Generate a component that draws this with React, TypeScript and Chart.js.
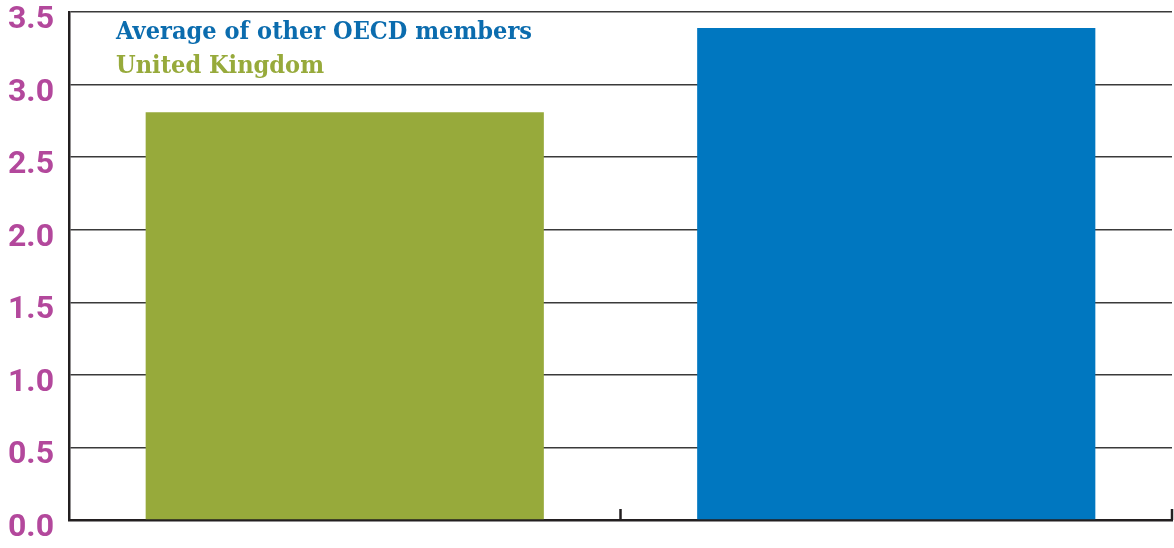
import React, { useEffect, useRef } from "react";
import { Chart, registerables } from "chart.js";

Chart.register(...registerables);

const categories = ["United Kingdom", "Average of other OECD members"];
const values = [2.81, 3.39];
const barColors = ["#97aa3b", "#0077c0"];
const legendLabels = ["Average of other OECD members", "United Kingdom"];
const legendColors = ["#0b6cae", "#97aa3b"];
const yMin = 0;
const yMax = 3.5;
const yStep = 0.5;

const innerLegend = {
  id: "innerLegend",
  afterDraw(chart: any) {
    const { ctx, chartArea } = chart;
    ctx.save();
    ctx.font = "bold 24.5px 'DejaVu Serif'";
    ctx.textBaseline = "alphabetic";
    ctx.textAlign = "left";
    const w = ctx.measureText(legendLabels[0]).width;
    const sx = 416 / w;
    legendLabels.forEach((label, i) => {
      ctx.save();
      ctx.translate(chartArea.left + 47, chartArea.top + 26.5 + i * 34.5);
      ctx.scale(sx, 1);
      ctx.fillStyle = legendColors[i];
      ctx.fillText(label, 0, 0);
      ctx.restore();
    });
    ctx.restore();
  },
};

const innerTicks = {
  id: "innerTicks",
  afterDatasetsDraw(chart: any) {
    const { ctx, chartArea, scales } = chart;
    const x = scales.x;
    ctx.save();
    ctx.strokeStyle = "#231f20";
    ctx.lineWidth = 2.5;
    for (let i = 0; i < categories.length; i++) {
      const px = x.getPixelForValue(i + 0.5);
      ctx.beginPath();
      ctx.moveTo(px, chartArea.bottom - 11);
      ctx.lineTo(px, chartArea.bottom);
      ctx.stroke();
    }
    ctx.restore();
  },
};

export default function App() {
  const ref = useRef<HTMLCanvasElement | null>(null);
  useEffect(() => {
    document.body.style.margin = "0";
    const canvas = ref.current;
    if (!canvas) return;
    const chart = new Chart(canvas, {
      type: "bar",
      data: {
        labels: categories,
        datasets: [
          {
            label: "Value",
            data: values,
            backgroundColor: barColors,
            borderWidth: 0,
            barPercentage: 0.722,
            categoryPercentage: 1,
          },
        ],
      },
      options: {
        animation: false,
        responsive: false,
        maintainAspectRatio: false,
        layout: { padding: { top: 12, right: 2, bottom: 28, left: 0 } },
        plugins: {
          legend: { display: false },
          tooltip: { enabled: false },
          title: { display: false },
        },
        scales: {
          x: {
            type: "category",
            grid: { display: false, drawTicks: false },
            ticks: { display: false },
            border: { display: true, color: "#231f20", width: 2.5 },
          },
          y: {
            min: yMin,
            max: yMax,
            ticks: {
              stepSize: yStep,
              padding: 15,
              labelOffset: 8,
              color: "#b3489c",
              font: { family: "Roboto", weight: "bold", size: 32, lineHeight: 0.75 },
              callback: (v: any) => Number(v).toFixed(1),
            },
            grid: { color: "#3a3a3a", lineWidth: 1.5, drawTicks: false },
            border: { display: true, color: "#231f20", width: 2.5 },
            afterFit: (scale: any) => {
              scale.width = 69;
              scale.paddingTop = 0;
              scale.paddingBottom = 0;
            },
          },
        },
      },
      plugins: [innerTicks, innerLegend],
    });
    return () => chart.destroy();
  }, []);
  return (
    <div style={{ width: 1174, height: 548 }}>
      <canvas ref={ref} width={1174} height={548} style={{ display: "block" }} />
    </div>
  );
}
